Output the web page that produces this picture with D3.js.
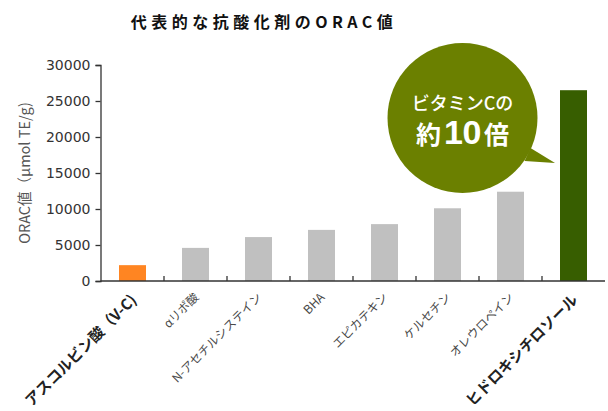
<!DOCTYPE html>
<html><head><meta charset="utf-8">
<script src="https://cdn.jsdelivr.net/npm/d3@7/dist/d3.min.js"></script>
<style>body{margin:0;background:#fff}svg{display:block}</style>
</head><body><svg id="c" width="608" height="411"></svg>
<script>
const categories = ["アスコルビン酸（V-C)","αリポ酸","N-アセチルシステイン","BHA","エピカテキン","ケルセチン","オレウロペイン","ヒドロキシチロソール"];
const values = [2200, 4600, 6100, 7100, 7900, 10100, 12400, 26500];
const barColors = ["#FF8522","#C0C0C0","#C0C0C0","#C0C0C0","#C0C0C0","#C0C0C0","#C0C0C0","#375E00"];
const emphasis = [true,false,false,false,false,false,false,true];
const yTicks = [0,5000,10000,15000,20000,25000,30000];
const title = "代表的な抗酸化剤のORAC値";
const yLabel = "ORAC値（μmol TE/g)";
const bubbleLines = ["ビタミンCの","約","10","倍"];

const svg = d3.select("#c");
const JP = "'Noto Sans CJK JP','Noto Sans',sans-serif";
const xb = d3.scaleBand().domain(categories).range([101,605]);
const y = d3.scaleLinear().domain([0,30000]).range([281,65]);

svg.append("text").attr("x",264).attr("y",28).attr("text-anchor","middle")
  .attr("font-family",JP).attr("font-weight","bold").attr("font-size",16)
  .attr("letter-spacing",4.5).attr("fill","#111").text(title);

// bars
svg.selectAll("rect.bar").data(values).join("rect").attr("class","bar")
  .attr("x",(d,i)=>xb(categories[i])+xb.bandwidth()/2-13.5).attr("width",27)
  .attr("y",d=>y(d)).attr("height",d=>y(0)-y(d)).attr("fill",(d,i)=>barColors[i]);

// y axis
const ya = svg.append("g").attr("transform","translate(100.5,0)")
  .call(d3.axisLeft(y).tickValues(yTicks).tickSize(5).tickPadding(5).tickFormat(d3.format("d")));
ya.select(".domain").attr("stroke","#333").attr("stroke-width",1.3);
ya.selectAll(".tick line").attr("stroke","#333").attr("stroke-width",1.3);
ya.selectAll(".tick text").attr("font-family","'DejaVu Sans',sans-serif").attr("font-size",14).attr("fill","#333");

// x axis
const xa = svg.append("g").attr("transform","translate(0,281)")
  .call(d3.axisBottom(xb).tickSize(0).tickFormat(""));
xa.select(".domain").attr("stroke","#333").attr("stroke-width",1.6).attr("d","M100.5,0H605");
xa.selectAll(".tick line").remove();
svg.selectAll("line.sep").data(categories.slice(1)).join("line").attr("class","sep")
  .attr("x1",d=>xb(d)).attr("x2",d=>xb(d)).attr("y1",281).attr("y2",276)
  .attr("stroke","#333").attr("stroke-width",1.3);

// x labels
svg.selectAll("text.xl").data(categories).join("text").attr("class","xl")
  .attr("transform",(d,i)=>{const cx=xb(d)+xb.bandwidth()/2; return emphasis[i]?`translate(${cx+5},${301}) rotate(-45)`:`translate(${cx+4},${298}) rotate(-45)`;})
  .attr("text-anchor","end").attr("font-family",JP)
  .attr("font-size",(d,i)=>emphasis[i]?15:12).attr("font-weight",(d,i)=>emphasis[i]?"bold":"normal")
  .attr("fill",(d,i)=>emphasis[i]?"#222":"#4a4a4a").text(d=>d);

// y label
svg.append("text").attr("transform","translate(30,173) rotate(-90)").attr("text-anchor","middle")
  .attr("font-family",JP).attr("font-size",14.5).attr("fill","#555").text(yLabel);

// bubble
const bx=462.5, by=118, br=75;
const bub = svg.append("g");
bub.append("circle").attr("cx",bx).attr("cy",by).attr("r",br).attr("fill","#6B8000");
bub.append("path").attr("d",`M${bx+68},${by+30}L555,163L${bx+62},${by+43}Z`).attr("fill","#6B8000");
bub.append("text").attr("x",bx).attr("y",by-8).attr("text-anchor","middle").attr("font-family",JP)
  .attr("font-size",18).attr("fill","#fff").attr("font-weight","500").text(bubbleLines[0]);
const t2 = bub.append("text").attr("x",bx).attr("y",by+26).attr("text-anchor","middle").attr("font-family",JP)
  .attr("fill","#fff").attr("font-weight","bold");
t2.append("tspan").attr("font-size",25).text(bubbleLines[1]);
t2.append("tspan").attr("font-size",34).attr("dx",3).attr("font-family","'Liberation Sans',Arial,sans-serif").attr("letter-spacing",-0.5).text(bubbleLines[2]);
t2.append("tspan").attr("font-size",25).attr("dx",3).text(bubbleLines[3]);
</script></body></html>
